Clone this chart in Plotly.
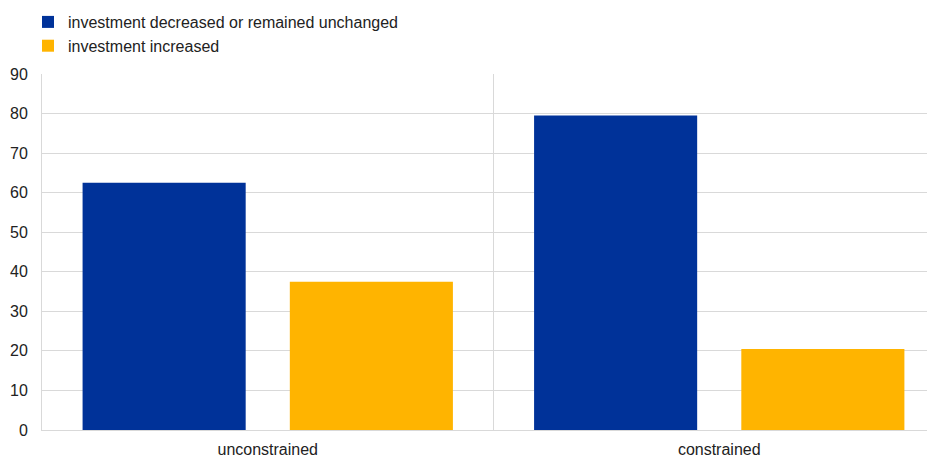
import plotly.graph_objects as go

categories = ["unconstrained", "constrained"]
series_names = ["investment decreased or remained unchanged", "investment increased"]
decreased_vals = [62.5, 79.5]
increased_vals = [37.5, 20.5]
y_ticks = [0, 10, 20, 30, 40, 50, 60, 70, 80, 90]

colors = ["#003299", "#FFB400"]

fig = go.Figure()
fig.add_trace(go.Bar(x=categories, y=decreased_vals, name=series_names[0],
                     marker=dict(color=colors[0], line=dict(width=0))))
fig.add_trace(go.Bar(x=categories, y=increased_vals, name=series_names[1],
                     marker=dict(color=colors[1], line=dict(width=0))))

fig.update_layout(
    width=935, height=455,
    margin=dict(l=34, r=0, t=66, b=33, autoexpand=False),
    paper_bgcolor="white", plot_bgcolor="white",
    barmode="group", bargap=0.082, bargroupgap=0.213,
    font=dict(family="Liberation Sans, Arial, sans-serif", size=16, color="#222222"),
    showlegend=True,
    legend=dict(orientation="v", x=20 / 935, xref="container", xanchor="left",
                y=1.1938, yref="paper", yanchor="top",
                font=dict(size=16, color="#222222"),
                itemsizing="constant", tracegroupgap=0, bgcolor="rgba(0,0,0,0)"),
    xaxis=dict(type="category", range=[-0.5, 1.4956], tickson="boundaries",
               showgrid=True, gridcolor="#d9d9d9", gridwidth=1,
               showline=True, linecolor="#d9d9d9", linewidth=1,
               ticks="", tickfont=dict(size=16, color="#222222"), zeroline=False,
               ticklabelstandoff=5, automargin=False),
    yaxis=dict(range=[0, 90], tickvals=y_ticks, showgrid=True, gridcolor="#d9d9d9",
               gridwidth=1, showline=True, linecolor="#d9d9d9", linewidth=1,
               ticks="", tickfont=dict(size=16, color="#222222"), zeroline=False,
               ticklabelstandoff=10, automargin=False),
)

fig.write_html("out.html")
